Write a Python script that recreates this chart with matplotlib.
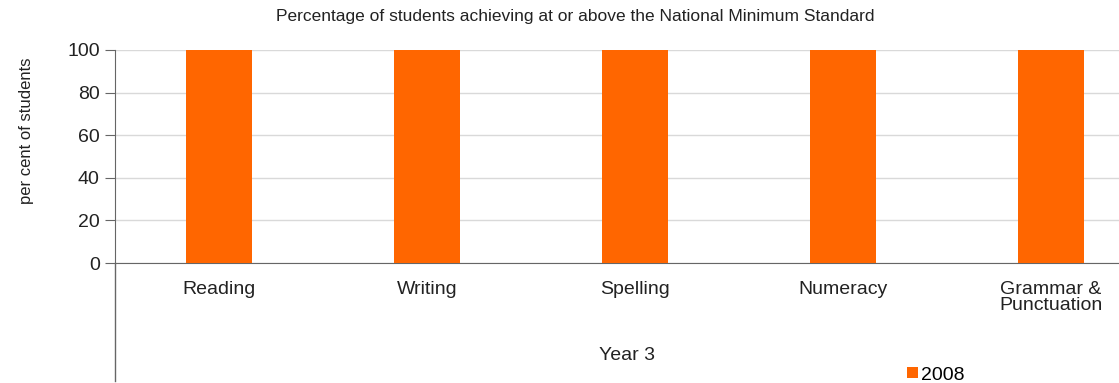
import matplotlib
matplotlib.use('Agg')
import matplotlib.pyplot as plt
from matplotlib.lines import Line2D
import numpy as np

# Data
categories = ['Reading', 'Writing', 'Spelling', 'Numeracy', 'Grammar &\nPunctuation']
values_2008 = [100, 100, 100, 100, 100]
series_name = '2008'
y_ticks = [0, 20, 40, 60, 80, 100]

BAR_COLOR = '#ff6600'
TEXT_COLOR = '#222222'

plt.rcParams['font.family'] = ['Liberation Sans', 'DejaVu Sans']

fig = plt.figure(figsize=(11.19, 3.83), dpi=100)
W, H = 1119, 383
# axes: x from 115px, 208px per category (right end runs past the figure edge)
ax_w = 5 * 208
ax = fig.add_axes([115 / W, 1 - 263 / H, ax_w / W, 213 / H])

x = np.arange(len(categories))
ax.bar(x, values_2008, width=0.32, color=BAR_COLOR, label=series_name, zorder=3)

ax.set_xlim(-0.5, len(categories) - 0.5)
ax.set_ylim(0, 100)
ax.set_yticks(y_ticks)
ax.set_yticklabels([str(t) for t in y_ticks], fontsize=14, color=TEXT_COLOR)
ax.set_xticks(x)
ax.set_xticklabels(categories, fontsize=14, color=TEXT_COLOR, linespacing=0.95)
ax.tick_params(axis='x', length=0, pad=13)
ax.tick_params(axis='y', length=7, direction='out', color='#666666', pad=4)

ax.grid(axis='y', color='#d9d9d9', linewidth=1, zorder=0)
for s in ['top', 'right']:
    ax.spines[s].set_visible(False)
ax.spines['bottom'].set_color('#666666')
ax.spines['left'].set_color('#666666')

ax.set_ylabel('per cent of students', fontsize=12, color=TEXT_COLOR)
ax.yaxis.set_label_coords(-(115 - 34) / ax_w, 0.62)

# vertical axis line continues down past the category labels
fig.add_artist(Line2D([115 / W, 115 / W], [1 - 263 / H, 1 - 381 / H],
                      color='#666666', linewidth=1, transform=fig.transFigure))

fig.text(575 / W, 1 - 17 / H,
         'Percentage of students achieving at or above the National Minimum Standard',
         ha='center', va='center', fontsize=12.5, color=TEXT_COLOR)
fig.text(627 / W, 1 - 355 / H, 'Year 3', ha='center', va='center',
         fontsize=14, color=TEXT_COLOR)

ax.legend(loc='center left', bbox_to_anchor=(907 / W, 1 - 375 / H),
          bbox_transform=fig.transFigure, frameon=False, fontsize=14,
          handlelength=0.55, handleheight=0.55, handletextpad=0.15,
          borderpad=0, borderaxespad=0)

fig.savefig('out.png', dpi=100)
